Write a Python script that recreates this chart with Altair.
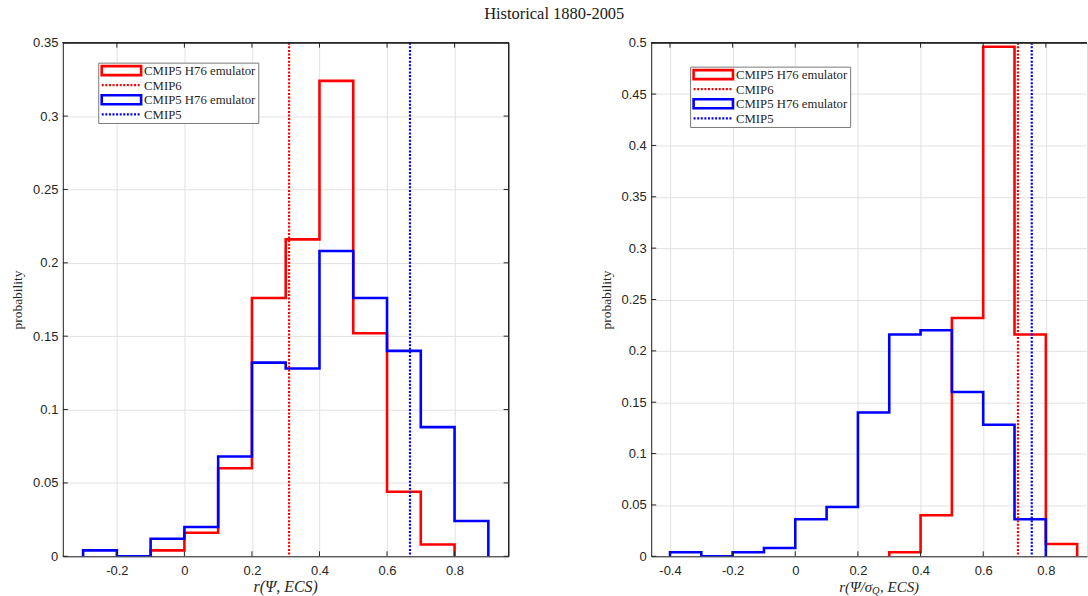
import altair as alt
import pandas as pd

# ---------------- data ----------------
BIN_W = 0.1
# Left panel: r(Psi, ECS)
L_red_start = -0.1
L_red_vals = [0.004, 0.016, 0.060, 0.176, 0.216, 0.324, 0.152, 0.044, 0.008]
L_blue_start = -0.3
L_blue_vals = [0.004, 0.0, 0.012, 0.020, 0.068, 0.132, 0.128, 0.208, 0.176, 0.140, 0.088, 0.024]
L_red_line = 0.31
L_blue_line = 0.668

# Right panel: r(Psi/sigma_Q, ECS)
R_red_start = 0.3
R_red_vals = [0.004, 0.040, 0.232, 0.496, 0.216, 0.012]
R_blue_start = -0.4
R_blue_vals = [0.004, 0.0, 0.004, 0.008, 0.036, 0.048, 0.140, 0.216, 0.220, 0.160, 0.128, 0.036]
R_red_line = 0.711
R_blue_line = 0.755

L_xticks = [-0.2, 0, 0.2, 0.4, 0.6, 0.8]
R_xticks = [-0.4, -0.2, 0, 0.2, 0.4, 0.6, 0.8]
L_yticks = [0, 0.05, 0.1, 0.15, 0.2, 0.25, 0.3, 0.35]
R_yticks = [0, 0.05, 0.1, 0.15, 0.2, 0.25, 0.3, 0.35, 0.4, 0.45, 0.5]

legend_labels = ["CMIP5 H76 emulator", "CMIP6", "CMIP5 H76 emulator", "CMIP5"]
legend_colors = ["#ff0000", "#ff0000", "#0000ff", "#0000ff"]
legend_kind = ["box", "dot", "box", "dot"]

TITLE = "Historical 1880-2005"
AXC = "#262626"
SERIF = "Liberation Serif"
SANS = "Liberation Sans"


def stairs(start, vals):
    xs, ys = [start], [0.0]
    for i, v in enumerate(vals):
        left = start + i * BIN_W
        right = start + (i + 1) * BIN_W
        xs += [round(left, 4), round(right, 4)]
        ys += [v, v]
    xs.append(round(start + len(vals) * BIN_W, 4))
    ys.append(0.0)
    return pd.DataFrame({"x": xs, "y": ys, "i": list(range(len(xs)))})


def panel(W, H, xdom, ydom, xticks, yticks, red, blue, rline, bline,
          leg_dx, leg_dy, xtitle_parts, full_right, title_center):
    xs = alt.Scale(domain=xdom, nice=False, zero=False)
    ys = alt.Scale(domain=ydom, nice=False, zero=False)
    xax = alt.Axis(values=xticks, labelExpr="'' + datum.value", grid=True,
                   gridColor="#e2e2e2", tickSize=0, labelPadding=8,
                   domainColor=AXC, labelColor=AXC, labelFont=SANS,
                   labelFontSize=13, title=None)
    yax = alt.Axis(values=yticks, labelExpr="'' + datum.value", grid=True,
                   gridColor="#e2e2e2", tickSize=0, labelPadding=5,
                   domainColor=AXC, labelColor=AXC, labelFont=SANS,
                   labelFontSize=13, title="probability", titleFont=SERIF,
                   titleFontSize=13.5, titleFontWeight="normal", titleColor=AXC,
                   titlePadding=8, minExtent=30, maxExtent=30)

    def hist(df, color):
        return alt.Chart(df).mark_line(color=color, strokeWidth=2.6, clip=True,
                                       strokeJoin="miter", strokeCap="square").encode(
            x=alt.X("x:Q", scale=xs, axis=xax),
            y=alt.Y("y:Q", scale=ys, axis=yax),
            order="i:Q")

    def vline(v, color):
        return alt.Chart(pd.DataFrame({"v": [v]})).mark_rule(
            color=color, strokeWidth=2.2, strokeDash=[2, 1.6]).encode(
            x=alt.X("v:Q", scale=xs))

    layers = [hist(red, "#ff0000"), hist(blue, "#0000ff"),
              vline(rline, "#ff0000"), vline(bline, "#0000ff")]

    # inner ticks
    tk = 5
    bx = pd.DataFrame({"t": xticks})
    by = pd.DataFrame({"t": yticks})
    layers.append(alt.Chart(bx).mark_rule(color=AXC, strokeWidth=1).encode(
        x=alt.X("t:Q", scale=xs), y=alt.value(H), y2=alt.value(H - tk)))
    layers.append(alt.Chart(bx).mark_rule(color=AXC, strokeWidth=1).encode(
        x=alt.X("t:Q", scale=xs), y=alt.value(0), y2=alt.value(tk)))
    layers.append(alt.Chart(by).mark_rule(color=AXC, strokeWidth=1).encode(
        y=alt.Y("t:Q", scale=ys), x=alt.value(0), x2=alt.value(tk)))
    # top border
    layers.append(alt.Chart(bx).mark_rule(color=AXC, strokeWidth=1).encode(
        y=alt.value(0), x=alt.value(0), x2=alt.value(W)))
    if full_right:
        layers.append(alt.Chart(by).mark_rule(color=AXC, strokeWidth=1).encode(
            y=alt.Y("t:Q", scale=ys), x=alt.value(W), x2=alt.value(W - tk)))
        layers.append(alt.Chart(bx).mark_rule(color=AXC, strokeWidth=1).encode(
            x=alt.value(W), y=alt.value(0), y2=alt.value(H)))

    # legend
    lx0, ly0 = 36 + leg_dx, 20.5 + leg_dy
    lw, lh = 160.5, 60.5
    one = pd.DataFrame({"a": [0]})
    layers.append(alt.Chart(one).mark_rect(fill="white", stroke="#7a7a7a",
                                           strokeWidth=1).encode(
        x=alt.value(lx0), x2=alt.value(lx0 + lw),
        y=alt.value(ly0), y2=alt.value(ly0 + lh)))
    for k, (lab, col, kind) in enumerate(zip(legend_labels, legend_colors, legend_kind)):
        cy = ly0 + 7.5 + k * 14.6
        sx0, sx1 = lx0 + 3, lx0 + 42.5
        if kind == "box":
            layers.append(alt.Chart(one).mark_rect(fill="white", stroke=col,
                                                   strokeWidth=2.6).encode(
                x=alt.value(sx0), x2=alt.value(sx1),
                y=alt.value(cy - 4.5), y2=alt.value(cy + 4.5)))
        else:
            layers.append(alt.Chart(one).mark_rule(color=col, strokeWidth=2.2,
                                                   strokeDash=[2, 1.6]).encode(
                x=alt.value(sx0), x2=alt.value(sx1),
                y=alt.value(cy)))
        layers.append(alt.Chart(one).mark_text(align="left", baseline="middle",
                                               font=SERIF, fontSize=12.8,
                                               color=AXC).encode(
            x=alt.value(sx1 + 3), y=alt.value(cy + 0.5), text=alt.value(lab)))

    # x-axis title (manual, to allow a subscript)
    ty = H + 31
    if len(xtitle_parts) == 1:
        layers.append(alt.Chart(one).mark_text(align="center", baseline="middle",
                                               font=SERIF, fontSize=16,
                                               fontStyle="italic", color=AXC).encode(
            x=alt.value(title_center), y=alt.value(ty), text=alt.value(xtitle_parts[0])))
    else:
        a, sub, b = xtitle_parts
        layers.append(alt.Chart(one).mark_text(align="right", baseline="middle",
                                               font=SERIF, fontSize=15,
                                               fontStyle="italic", color=AXC).encode(
            x=alt.value(title_center - 2), y=alt.value(ty), text=alt.value(a)))
        layers.append(alt.Chart(one).mark_text(align="left", baseline="middle",
                                               font=SERIF, fontSize=10.5,
                                               fontStyle="italic", color=AXC).encode(
            x=alt.value(title_center - 2), y=alt.value(ty + 4), text=alt.value(sub)))
        layers.append(alt.Chart(one).mark_text(align="left", baseline="middle",
                                               font=SERIF, fontSize=15,
                                               fontStyle="italic", color=AXC).encode(
            x=alt.value(title_center + 6), y=alt.value(ty), text=alt.value(b)))

    return alt.layer(*layers).properties(width=W, height=H)


H = 515
left = panel(447, H, [-0.36, 0.96], [0, 0.35], L_xticks, L_yticks,
             stairs(L_red_start, L_red_vals), stairs(L_blue_start, L_blue_vals),
             L_red_line, L_blue_line, 0, 0, ["r(Ψ, ECS)"], True, 223.5)
right = panel(437, H, [-0.46, 0.9314], [0, 0.5], R_xticks, R_yticks,
              stairs(R_red_start, R_red_vals), stairs(R_blue_start, R_blue_vals),
              R_red_line, R_blue_line, 3.5, 4, ["r(Ψ/σ", "Q", ", ECS)"], False, 223.5)

chart = alt.hconcat(left, right, spacing=143, bounds="flush").properties(
    title=alt.TitleParams(TITLE, font=SERIF, fontSize=16.5, fontWeight="normal",
                          color="#1a1a1a", anchor="middle", dx=5, offset=14),
    padding={"left": 10, "top": 5, "right": 0, "bottom": 0},
).configure_view(stroke="transparent").configure(background="white")

chart.save("out.html", embed_options={"renderer": "svg", "actions": False})
